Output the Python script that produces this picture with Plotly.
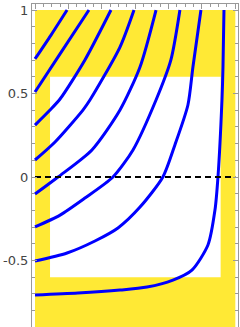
import plotly.graph_objects as go

# Flow curves (x, y)
c1_x = [0.0, 0.096, 0.192]
c1_y = [0.707, 0.850, 1.0]
c2_x = [0.0, 0.150, 0.323]
c2_y = [0.509, 0.737, 1.0]
c3_x = [0.0, 0.090, 0.150, 0.299, 0.455]
c3_y = [0.311, 0.401, 0.467, 0.701, 1.0]
c4_x = [0.0, 0.120, 0.287, 0.329, 0.509, 0.593]
c4_y = [0.102, 0.210, 0.401, 0.461, 0.778, 1.0]
c5_x = [0.0, 0.138, 0.341, 0.509, 0.629, 0.725]
c5_y = [-0.102, 0.0, 0.162, 0.401, 0.659, 1.0]
c6_x = [0.0, 0.150, 0.299, 0.467, 0.587, 0.725, 0.814, 0.868]
c6_y = [-0.299, -0.228, -0.126, 0.0, 0.162, 0.461, 0.701, 1.0]
c7_x = [0.0, 0.192, 0.359, 0.497, 0.629, 0.766, 0.838, 0.916, 0.946, 0.994]
c7_y = [-0.503, -0.455, -0.383, -0.305, -0.180, 0.0, 0.192, 0.431, 0.659, 1.0]
c8_x = [0.0, 0.257, 0.509, 0.671, 0.826, 0.940, 1.036, 1.078, 1.096, 1.120, 1.126, 1.132]
c8_y = [-0.707, -0.695, -0.677, -0.659, -0.617, -0.557, -0.407, -0.198, 0.0, 0.461, 0.659, 1.0]

curves = [(c1_x, c1_y), (c2_x, c2_y), (c3_x, c3_y), (c4_x, c4_y),
          (c5_x, c5_y), (c6_x, c6_y), (c7_x, c7_y), (c8_x, c8_y)]

# Regions
outer_x = [0.0, 1.2]
outer_y = [-1.0, 1.0]
inner_x = [0.09, 1.112]
inner_y = [-0.6, 0.6]
zero_line_x = [0.0, 1.2]
zero_line_y = [0.0, 0.0]

ytick_vals = [1, 0.5, 0, -0.5]
ytick_text = ["1", "0.5", "0", "-0.5"]

fig = go.Figure()
for cx, cy in curves:
    fig.add_trace(go.Scatter(x=cx, y=cy, mode="lines",
                             line=dict(color="#0000FF", width=3, shape="spline", smoothing=0.7),
                             hoverinfo="skip"))
fig.add_trace(go.Scatter(x=zero_line_x, y=zero_line_y, mode="lines",
                         line=dict(color="black", width=2, dash="6px,4px"),
                         hoverinfo="skip"))

fig.add_shape(type="rect", x0=outer_x[0], x1=outer_x[1], y0=outer_y[0], y1=outer_y[1],
              fillcolor="#FFE935", line_width=0, layer="below")
fig.add_shape(type="rect", x0=inner_x[0], x1=inner_x[1], y0=inner_y[0], y1=inner_y[1],
              fillcolor="white", line_width=0, layer="below")

fig.update_layout(
    width=240, height=327,
    margin=dict(l=32, r=2, t=4, b=0, autoexpand=False),
    paper_bgcolor="white", plot_bgcolor="white",
    showlegend=False,
    xaxis=dict(range=[-0.018, 1.216], side="top", showline=True, linecolor="#999999",
               linewidth=1, mirror=False, showgrid=False, zeroline=False, automargin=False,
               ticks="inside", ticklen=5, tickcolor="#999999", dtick=0.2, tick0=0,
               showticklabels=False,
               minor=dict(ticks="inside", ticklen=3, dtick=0.05, tickcolor="#999999", showgrid=False)),
    yaxis=dict(range=[-0.898, 1.036], showline=True, linecolor="#999999", linewidth=1,
               mirror="ticks", showgrid=False, zeroline=False, automargin=False,
               ticks="inside", ticklen=5, tickcolor="#999999",
               tickvals=ytick_vals, ticktext=ytick_text,
               tickfont=dict(family="DejaVu Sans", size=13, color="#444444"),
               minor=dict(ticks="inside", ticklen=3, dtick=0.1, tick0=0, tickcolor="#999999", showgrid=False)),
)

fig.write_html("out.html", config={"displayModeBar": False},
               post_script="document.body.style.margin='0px';document.body.style.overflow='hidden';")
